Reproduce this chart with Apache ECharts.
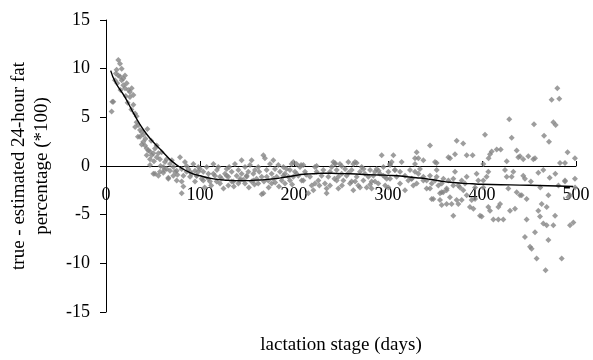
<!DOCTYPE html>
<html>
<head>
<meta charset="utf-8">
<script src="https://cdn.jsdelivr.net/npm/echarts@6/dist/echarts.min.js"></script>
<style>
  html, body { margin: 0; padding: 0; background: #fff; }
  #chart { width: 593px; height: 360px; }
</style>
</head>
<body>
<div id="chart"></div>
<script>
// axis ranges
var xTicks = [0, 100, 200, 300, 400, 500];
var yTicks = [-15, -10, -5, 0, 5, 10, 15];

// residuals, [day, residual]
var pointsEarly = [
  [13.1,10.9],[14.9,10.5],[16.7,10.0],[11.3,9.9],[9.6,8.8],[7.8,6.6],[6.0,5.6],[6.7,6.6],
  [13.1,9.3],[14.9,9.2],[16.7,8.8],[18.4,9.0],[20.2,9.3],[18.4,8.3],[20.2,8.0],[22.0,8.5],
  [23.8,7.8],[25.5,7.6],[27.3,8.0],[29.1,7.3],[25.5,7.1],[29.1,6.3],[30.9,5.4],[32.6,5.1],
  [32.6,4.5],[34.4,4.2],[36.2,3.7],[37.9,3.5],[36.2,3.0],[39.7,3.2],[39.7,2.5],[41.5,2.1],
  [43.3,1.8],[45.0,1.6],[46.8,1.5],[48.6,1.1],[50.4,1.3],[52.1,1.8],[53.9,2.1],[55.7,1.3],
  [57.4,0.7],[46.8,0.1],[52.1,-0.8],[57.4,-0.6],[60.9,-0.1],[64.5,-0.3],[66.3,-1.3],[68.1,-0.5],
  [71.6,-0.1],[73.4,-0.6],[75.2,-0.5],[78.7,0.9],[80.5,-0.3],[82.3,-1.0],[84.0,0.4],[85.8,0.0],
  [87.6,-0.3],[89.4,-0.6],[91.1,-0.8],[80.5,-1.6],[82.3,-2.1],[92.9,0.2],[94.7,-0.5],[96.5,-1.0],
  [98.2,-0.1],[68.1,0.2],[62.7,0.4],[64.5,0.7],[59.2,1.4],[43.3,1.1],[46.8,0.7],
  [50.4,-0.8],[55.7,-1.0],[61.0,-0.7],[66.3,-1.2],[71.6,-1.0],[75.2,-1.5],[80.5,-2.8],[85.8,-0.6],
  [89.4,-1.1],[94.7,-1.6],[10.5,9.5],[12.0,8.5],[15.5,7.8],[21.0,7.2],[23.0,6.5],[27.0,5.8],
  [31.0,4.0],[34.0,3.0],[38.0,2.2],[42.0,2.8],[44.0,3.8],[48.0,2.6],[51.0,0.5],[54.0,0.9],
  [58.0,0.0],[62.0,-0.4],[76.0,-0.9],[70.0,0.6]
];

var pointsMid = [
  [100,-0.3],[103.5,-0.6],[108.9,-0.8],[114.2,0.2],[115.9,-1.0],[119.5,-0.1],[123,-1.3],[126.6,-0.8],
  [128.4,-0.3],[130.1,-1.1],[133.7,-0.6],[137.2,0.2],[139,-1.0],[140.8,-0.4],[142.5,-1.5],[144.3,-0.8],
  [147.9,-0.1],[149.6,-1.1],[151.4,-0.6],[153.2,0.1],[154.9,0.6],[156.7,-0.8],[158.5,-0.4],[160.2,-1.3],
  [162,-0.1],[165.6,-1.1],[167.4,1.1],[169.1,0.8],[170.9,-0.4],[172.7,-1.5],[174.5,0.2],[176.2,-0.8],
  [179.8,-0.3],[181.6,-1.1],[183.3,0.1],[185.1,-0.6],[186.9,-1.5],[188.7,-0.1],[190.4,-0.8],[194,-1.1],
  [195.7,-0.4],[197.5,0.2],[201,-0.6],[110.6,-1.6],[121.3,-1.8],[133.7,-1.6],[147.9,-1.8],[165.6,-2.9],
  [101.8,-1.3],[96.5,-1.0],[98.2,-0.6],[107.1,-0.1],[117.7,-1.6],[130.1,-2.0],[140.8,-1.8],[154.9,-1.6],
  [162,-1.8],[176.2,-1.8],[190.4,-1.8],[178,0.6],[144.3,0.6],
  [103.5,-1.5],[109,-1.3],[114.2,-0.8],[121.3,-1.1],[128.4,-1.0],[135.5,-1.6],[142.6,-1.3],[149.6,-1.0],
  [156.7,-1.5],[167.4,-2.8],[171,-1.1],[178,-1.3],[188.7,-1.0],[195.7,-1.5],[202.8,-0.8],
  [105,-2.2],[112,-2.0],[118,-0.4],[125,-2.3],[131,-0.1],[136,-2.1],[146,-1.4],[152,-2.2],
  [158,-1.9],[163,-0.6],[168,-1.6],[173,-2.2],[180,-1.7],[184,-2.1],[192,-0.3],[198,-1.9],
  [202.8,0.2],[206.4,-0.1],[209.9,0.1],[211.7,-0.6],[204.6,-1.0],[208.2,-1.5],[217,-1.1],[218.8,-2.0],
  [220.6,-2.5],[222.3,-0.1],[224.1,-0.6],[225.9,-1.5],[229.4,-1.0],[231.2,-0.4],[232.9,-1.8],[234.7,-2.3],
  [236.5,-1.1],[238.3,-0.6],[240,-0.1],[241.8,0.4],[243.6,0.2],[245.4,-0.4],[247.2,-1.1],[248.9,0.2],
  [250.7,-0.8],[252.5,-1.5],[254.3,-0.3],[256,-1.0],[257.8,0.4],[259.6,-1.8],[261.3,-0.4],[263.1,0.2],
  [264.9,0.4],[266.7,-1.1],[268.4,-2.0],[270.2,-0.6],[272,-0.1],[273.8,-1.5],[275.5,-0.8],[277.3,-2.2],
  [279.1,-1.1],[280.9,-0.4],[282.6,-1.6],[284.4,-1.0],[286.2,-0.6],[288,-0.3],[289.7,-1.8],[291.5,-0.8],
  [293.3,1.1],[295.1,-0.1],[296.8,-1.1],[298.6,-1.3],[247.2,-2.3],[234.7,-2.8],[215.2,-2.8],[282.6,-2.3],
  [263.1,-2.5],[199.3,-1.1],[210,-1.5],[222.3,-1.8],[238.3,-2.0],[245.4,-1.5],[261.3,-1.6],[270.2,-2.2],
  [286.2,-1.6],[295,-1.0],[199.3,0.4],[207.5,0.1],[224.1,0.0],[243.6,0.3],[250.7,0.0],[266.7,0.3],
  [213,-0.9],[227,-2.0],[243,-1.3],[251,-2.0],[258,-0.7],[265,-1.6],[274,-0.3],[281,-1.9],
  [290,-0.5],[297,-2.0]
];

var pointsLate = [
  [300.4,-0.6],[302.2,0.1],[303.9,0.4],[305.7,1.1],[307.4,-0.4],[309.2,-1.1],[300.4,-2.2],[302.1,-1.3],
  [312.8,-1.8],[318.1,-2.5],[325.2,-1.3],[330.5,-1.8],[337.6,-1.5],[344.7,-2.3],[351.8,-1.1],[357.1,-1.8],
  [362.4,-2.3],[369.5,-1.3],[374.8,-2.0],[383.7,-1.1],[392.6,-2.2],[401.4,-1.5],
  [307.4,-0.4],[312.8,-0.6],[318.1,-1.0],[323.4,-0.4],[321.6,-1.5],[325.2,-1.3],[326.9,-2.0],[328.7,-0.6],
  [332.3,-0.8],[334,-0.3],[337.6,-1.1],[341.1,-1.5],[341.1,-2.3],[344.7,-1.0],[346.5,-1.8],[350,-1.5],
  [351.8,-0.4],[353.6,-2.0],[357.1,-2.7],[358.9,-1.3],[362.4,-2.5],[364.2,-1.5],[365.9,-3.2],[369.5,-2.0],
  [371.3,-0.6],[373,-3.5],[376.6,-2.2],[378.4,-1.5],[380.1,-2.5],[381.9,-1.8],[383.7,-3.0],[389,-3.5],
  [390.8,-4.4],[394.3,-0.8],[396.1,-1.5],[397.9,-5.1],[401.4,-2.2],[404.9,-1.1],[406.7,-4.2],[355.3,-3.5],
  [346.5,-3.4],[357.1,-4.0],[362.4,-3.9],[367.7,-3.9],[369.5,-5.1],[348.2,-3.4],[355.3,-2.8],[358.8,-2.7],
  [374.8,-3.9],[378.4,-3.5],[387.2,-4.2],[392.6,-3.4],[399.7,-5.2],
  [302.1,0.2],[314.5,0.4],[328.7,0.2],[328.7,0.8],[330.5,1.4],[332.3,0.8],[337.6,0.6],[344.7,2.1],
  [350,0.4],[351.7,0.3],[364.2,0.9],[366,0.8],[371.3,1.2],[373.1,2.6],[380,2.3],[383.7,1.1],
  [390,1.1],[401.4,0.2],
  [480.1,8.0],[474.1,6.8],[482.2,6.9],[429,4.8],[455.3,4.3],[475.9,4.5],[478.4,4.2],[403.2,3.2],
  [431.6,2.9],[466,3.1],[471.3,2.5],[415.6,1.7],[419.9,1.7],[408.5,1.2],[410.3,1.5],[407,0.8],
  [436.9,1.6],[438.6,0.9],[440.4,1.0],[449.3,1.0],[454.6,0.7],[456.4,0.8],[426.3,0.5],[443.9,0.7],
  [491,1.4],[488.3,0.3],[483,0.3],[498.9,0.8],
  [406.7,-0.6],[424.5,-0.4],[426.3,-1.1],[433.3,-0.6],[431.6,-1.1],[443.9,-1.0],[445.7,-1.3],[459.9,-0.7],
  [465.2,-0.4],[498.9,-1.3],[488.3,-1.5],[452,-1.6],[472,-1.2],[478,-0.8],[462,-2.2],
  [428,-2.3],[436.9,-2.7],[440.4,-3.0],[442.2,-3.0],[447.5,-3.4],[419.2,-3.9],[417.4,-4.2],[408.5,-4.6],
  [429.8,-4.6],[435.1,-4.4],[412.1,-5.5],[417.4,-5.5],[422.7,-5.5],[447.5,-5.5],[470.6,-3.0],[463.5,-3.9],
  [459.9,-4.6],[468.8,-4.2],[461.7,-5.2],[477.7,-5.1],[465.2,-5.9],[468.8,-6.1],[475.9,-6.1],[456.4,-6.8],
  [445.7,-7.3],[451.1,-8.3],[452.8,-8.5],[470.6,-7.6],[458.1,-9.5],[484.8,-9.5],[467.6,-10.7],[493.6,-6.1],
  [497.2,-5.8],[491.8,-3.2],[488.3,-1.6],[481.3,-2.0],[499,-2.2],[493.6,-3.0]
];

// fitted trend
var curveX = [5,10,20,30,40,50,60,70,80,90,100,110,120,130,140,150,160,170,180,190,200,210,220,230,240,250,
  260,270,280,290,300,310,320,330,340,350,360,370,380,390,400,420,440,460,480,497];
var curveY = [9.8,8.6,7.1,5.3,3.7,2.5,1.5,0.5,-0.2,-0.7,-1.0,-1.25,-1.4,-1.47,-1.5,-1.5,-1.45,-1.4,-1.3,-1.15,
  -1.0,-0.85,-0.8,-0.75,-0.75,-0.78,-0.8,-0.85,-0.9,-0.92,-0.96,-1.0,-1.1,-1.2,-1.3,-1.45,-1.6,-1.7,-1.78,
  -1.83,-1.87,-1.92,-1.96,-2.0,-2.05,-2.1];

var font = '"Liberation Serif", "Times New Roman", serif';
var scatterData = pointsEarly.concat(pointsMid, pointsLate);
var curveData = curveX.map(function (x, i) { return [x, curveY[i]]; });

var myChart = echarts.init(document.getElementById('chart'));
var option = {
  animation: false,
  grid: { left: 106, right: 17, top: 20, bottom: 48, containLabel: false, outerBoundsMode: 'none' },
  xAxis: {
    type: 'value',
    min: xTicks[0],
    max: xTicks[xTicks.length - 1],
    interval: 100,
    position: 'bottom',
    // the x axis sits on the zero line, half way up the grid
    offset: -146,
    name: 'lactation stage (days)',
    nameLocation: 'middle',
    nameGap: 170,
    nameTextStyle: { fontFamily: font, fontSize: 19, color: '#000' },
    axisLine: { onZero: false, lineStyle: { color: '#000', width: 1 } },
    axisTick: { inside: true, length: 5, lineStyle: { color: '#000' } },
    axisLabel: { fontFamily: font, fontSize: 18, color: '#000', margin: 20 },
    splitLine: { show: false }
  },
  yAxis: {
    type: 'value',
    min: yTicks[0],
    max: yTicks[yTicks.length - 1],
    interval: 5,
    name: 'true - estimated 24-hour fat\npercentage (*100)',
    nameLocation: 'middle',
    nameGap: 52,
    nameTextStyle: { fontFamily: font, fontSize: 19, lineHeight: 23, color: '#000', align: 'center' },
    axisLine: { show: true, onZero: false, lineStyle: { color: '#000', width: 1 } },
    axisTick: { show: true, length: 6, lineStyle: { color: '#000' } },
    axisLabel: { fontFamily: font, fontSize: 18, color: '#000', margin: 16 },
    splitLine: { show: false }
  },
  series: [
    {
      type: 'scatter',
      data: scatterData,
      symbol: 'diamond',
      symbolSize: 6,
      itemStyle: { color: '#858585' }
    },
    {
      type: 'line',
      data: curveData,
      smooth: true,
      showSymbol: false,
      lineStyle: { color: '#000', width: 1.4 }
    }
  ]
};
myChart.setOption(option);
</script>
</body>
</html>
